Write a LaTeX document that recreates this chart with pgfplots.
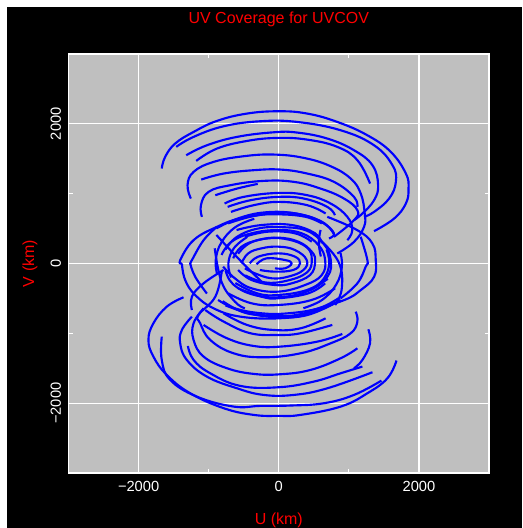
\documentclass[border=0pt]{standalone}
\usepackage{pgfplots}
\usepackage{fontspec}
\setmainfont{Liberation Sans}
\pgfplotsset{compat=1.18}
\definecolor{panel}{RGB}{191,191,191}
\newcommand{\trk}[1]{\addplot+[smooth,tension=0.7] coordinates {#1};}
\begin{document}
\begin{tikzpicture}[x=1pt,y=1pt]
\fill[white] (0,0) rectangle (391.5,396);
\fill[black] (5.25,0) rectangle (391.5,390.75);
\begin{axis}[at={(51.4pt,41.25pt)},anchor=south west,scale only axis,width=315.4pt,height=314.25pt,
 xmin=-3000,xmax=3000,ymin=-3000,ymax=3000,
 axis background/.style={fill=panel},
 axis line style={white,line width=0.9pt},
 xtick={-2000,0,2000},ytick={-2000,0,2000},
 xticklabels={−2000,0,2000},yticklabels={−2000,0,2000},
 minor xtick={-1000,1000},minor ytick={-1000,1000},
 tick style={white,line width=0.8pt},minor tick length=3pt,major tick length=0pt,
 grid=major,major grid style={white,line width=0.9pt},
 tick label style={white,font=\fontsize{11}{11}\selectfont,inner sep=0pt},
 xticklabel style={anchor=center,yshift=-9.75pt},
 yticklabel style={anchor=center,xshift=-9.5pt,rotate=90},
 every axis title shift=0pt,
 title={UV Coverage for UVCOV},
 title style={red,font=\fontsize{12}{12}\selectfont,inner sep=0pt,at={(axis description cs:0.5,1)},anchor=center,yshift=26pt},
 xlabel={U (km)},ylabel={V (km)},
 xlabel style={red,font=\fontsize{12}{12}\selectfont,inner sep=0pt,at={(axis description cs:0.5,0)},anchor=center,yshift=-35.5pt},
 ylabel style={red,font=\fontsize{12}{12}\selectfont,inner sep=0pt,at={(axis description cs:0,0.5)},anchor=center,rotate=0,yshift=29pt},
 every axis plot/.append style={blue,line width=1.6pt,no markers,line join=round},
 cycle list={{blue}},
]
% upper tracks
\trk{(-1670,1360)(-1622,1526)(-1479,1717)(-1216,1884)(-882,2042)(-453,2147)(0,2180)(405,2147)(835,2027)(1264,1836)(1598,1598)(1813,1288)(1851,1073)(1813,859)(1646,644)(1359,463)}
\trk{(-1464,1670)(-1216,1813)(-787,1965)(-262,2037)(262,2027)(882,1908)(1359,1693)(1622,1407)(1670,1169)(1574,930)(1359,739)(1216,668)}
\trk{(-1321,1550)(-1026,1693)(-596,1813)(-72,1879)(262,1875)(692,1789)(1073,1622)(1336,1407)(1417,1121)(1359,906)(1193,716)(1073,620)}
\trk{(-1178,1469)(-882,1646)(-453,1755)(-24,1798)(405,1774)(835,1670)(1121,1479)(1302,1145)}
\trk{(-1255,930)(-1302,1121)(-1216,1312)(-930,1455)(-501,1536)(-72,1560)(358,1512)(739,1393)(1026,1216)(1169,1002)(1226,716)(1216,525)(1073,310)(835,143)}
\trk{(-1107,1202)(-787,1288)(-358,1336)(24,1345)(405,1288)(787,1169)(1073,954)(1121,811)}
\trk{(-1097,668)(-1111,835)(-1002,1026)(-692,1121)(-215,1183)(215,1169)(596,1073)(930,930)(1121,763)(1073,620)(787,382)}
\trk{(-906,978)(-596,1073)(-300,1140)}
\trk{(-773,859)(-501,954)(0,1011)(405,978)(739,859)(978,668)(1049,477)(978,334)}
\trk{(-730,811)(-405,906)(0,954)(358,930)(692,811)(801,692)}
\trk{(-682,739)(-358,835)(0,882)(405,835)(668,716)}
% side rings
\trk{(-1383,0)(-1407,48)(-1216,334)(-882,525)(-549,644)(0,725)(358,692)(644,572)(787,429)(716,358)}
\trk{(-1383,0)(-1336,-236)(-1193,-451)(-930,-642)(-549,-761)(0,-785)(453,-714)(882,-522)}
\trk{(-1264,0)(-1240,48)(-1073,334)(-882,525)}
\trk{(-1264,0)(-1193,-190)(-1026,-430)}
\trk{(692,668)(1121,477)(1336,286)(1383,48)(1360,-190)(1170,-380)(930,-525)(405,-690)}
\trk{(1169,382)(1264,48)(1240,-45)(1120,-285)(880,-500)}
\trk{(-787,-93)(-1073,-284)(-1240,-475)(-1240,-666)}
% lower tracks
\trk{(-1359,-484)(-1598,-618)(-1789,-856)(-1860,-1095)(-1789,-1333)(-1598,-1596)(-1264,-1858)(-787,-2072)(-358,-2168)(0,-2182)(310,-2168)(883,-2049)(1264,-1858)(1550,-1643)(1679,-1390)}
\trk{(-1670,-1047)(-1670,-1381)(-1550,-1667)(-1169,-1906)(-644,-2049)(-262,-2039)(167,-2034)(644,-2001)(1073,-1882)(1464,-1677)}
\trk{(-1240,-761)(-1383,-952)(-1407,-1143)(-1312,-1381)(-1026,-1620)(-596,-1787)(-215,-1882)(215,-1882)(692,-1787)(1336,-1557)}
\trk{(-1297,-1181)(-1216,-1381)(-978,-1572)(-549,-1753)(0,-1772)(501,-1691)(882,-1572)(1193,-1476)}
\trk{(-1073,-642)(-1216,-856)(-1216,-1095)(-1073,-1333)(-739,-1500)(-358,-1581)(24,-1586)(453,-1524)(882,-1357)(1121,-1214)}
\trk{(1278,-942)(1302,-1143)(1193,-1381)(1073,-1500)}
\trk{(1097,-690)(1121,-832)(1026,-999)(739,-1143)(310,-1286)(-215,-1343)(-644,-1286)(-978,-1095)(-1121,-856)(-1145,-737)(-906,-475)(-811,-93)}
\trk{(906,-1009)(549,-1119)(24,-1190)(-358,-1181)(-739,-1071)(-1073,-880)}
\trk{(763,-880)(310,-999)(0,-1023)(-405,-999)(-787,-832)(-1049,-666)}
\trk{(668,-785)(310,-928)(-72,-952)(-453,-880)(-787,-714)}
% central rings
\trk{(-818,122)(-675,312)(-389,432)(-7,479)(327,432)(565,265)(661,50)(613,-165)(374,-308)(-7,-403)(-389,-355)(-627,-212)(-794,-45)}
\trk{(-760,200)(-600,380)(-300,500)(50,520)(400,470)(640,280)(740,60)(700,-180)(450,-380)(50,-480)(-350,-450)(-650,-300)(-760,-100)}
\trk{(-651,74)(-532,241)(-293,336)(-7,370)(279,312)(470,169)(518,26)(446,-165)(184,-284)(-55,-308)(-389,-236)(-580,-93)}
\trk{(-580,140)(-420,290)(-150,360)(150,340)(400,230)(470,60)(400,-130)(100,-250)(-200,-270)(-480,-170)}
\trk{(-532,2)(-436,145)(-246,217)(-7,241)(231,193)(398,50)(351,-93)(136,-188)(-103,-212)(-341,-141)(-484,-69)}
\trk{(-413,2)(-293,98)(-7,145)(231,98)(303,2)(207,-93)(-55,-117)(-270,-93)}
\trk{(-317,-12)(-174,74)(88,50)(184,2)(88,-69)(-55,-69)}
% central lower arcs
\trk{(-866,-522)(-627,-642)(-246,-713)(136,-713)(565,-642)(851,-498)}
\trk{(-800,-540)(-500,-700)(-150,-745)(200,-745)(600,-650)}
\trk{(-760,-600)(-400,-720)(0,-770)(400,-740)(780,-580)}
\trk{(-723,-427)(-389,-570)(-7,-594)(470,-522)(804,-355)}
\trk{(-580,-355)(-246,-475)(-7,-498)(422,-427)(661,-284)}
\trk{(-620,-280)(-300,-430)(0,-450)(400,-380)(700,-220)}
% central upper arcs
\trk{(-890,503)(-580,646)(-198,732)(231,718)(613,599)(780,432)}
\trk{(-723,575)(-341,684)(-7,704)(374,670)(613,575)}
\trk{(-603,479)(-246,551)(184,551)(518,432)(613,289)}
\trk{(-484,384)(-150,456)(231,432)(470,312)}
% inner rings
\trk{(-880,-150)(-900,50)(-820,300)(-620,520)(-350,640)}
\trk{(880,150)(900,-50)(820,-300)(620,-520)(350,-640)}
\trk{(-680,-200)(-720,0)(-640,220)(-450,380)}
\trk{(680,200)(720,0)(640,-220)(450,-380)}
\trk{(-890,408)(-580,74)(-246,-261)}
\trk{(565,360)(851,26)(899,-355)(804,-594)}
\trk{(-914,217)(-818,-260)(-627,-546)(-484,-642)}
\trk{(596,480)(570,300)(600,100)}
\end{axis}
\end{tikzpicture}
\end{document}
